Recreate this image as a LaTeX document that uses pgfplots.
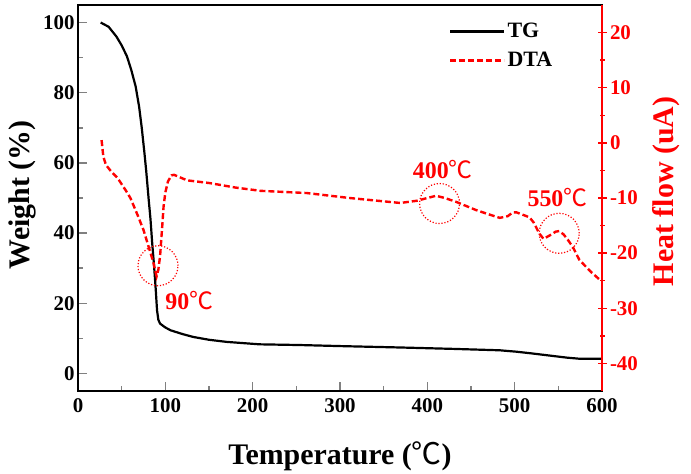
\documentclass[border=0pt]{standalone}
\usepackage{fontspec}
\setmainfont{Liberation Serif}
\newfontfamily\cjk{Noto Sans CJK SC}
\usepackage{pgfplots}
\pgfplotsset{compat=1.18}
\newcommand{\degC}{{\cjk\mdseries ℃}}

\begin{document}
\begin{tikzpicture}
\pgfplotsset{
  base/.style={
    scale only axis, width=524bp, height=386bp,
    xmin=0, xmax=600,
    /pgf/number format/assume math mode=true,
    xticklabel={\bfseries\pgfmathprintnumber{\tick}},
    yticklabel={\bfseries\pgfmathprintnumber{\tick}},
    tick label style={font=\fontsize{21}{21}\selectfont\bfseries},
    label style={font=\fontsize{30}{30}\selectfont\bfseries},
    major tick length=9bp, minor tick length=5bp,
    axis line style={line width=1.8bp},
    tick style={line width=1.5bp},
  },
}
\tikzset{
  annot/.style={red, font=\fontsize{24}{24}\selectfont\bfseries},
  ring/.style={red, line width=1.2bp, dash pattern=on 1.2bp off 1.8bp},
}
% Weight loss (TG), left axis
\begin{axis}[base,
  ymin=-5, ymax=105,
  xtick={0,100,...,600}, ytick={0,20,...,100},
  minor x tick num=1, minor y tick num=1,
  tick align=inside, xtick pos=bottom, ytick pos=left,
  xticklabel style={yshift=-4bp},
  xlabel={Temperature (\degC)}, ylabel={Weight (\%)},
  xlabel style={at={(axis description cs:0.5,-0.168)}, anchor=center},
  ylabel style={at={(axis description cs:-0.107,0.508)}, anchor=center},
  legend style={draw=none, fill=none, at={(rel axis cs:0.708,0.958)}, anchor=north west,
    font=\fontsize{22}{22}\selectfont\bfseries, row sep=9bp, inner sep=0pt},
  legend cell align=left,
  legend image code/.code={\draw[#1] (0bp,0bp) -- (54bp,0bp);},
]
\addplot[black, line width=2.2bp] coordinates {
(26,100) (35,98.8) (44,96) (50,93.5) (56,90.4) (61,86.5) (66,81.8) (70,76)
(73,70) (76,63) (78,58) (81,49.4) (83,44) (85,37) (87,31) (89,24) (90.5,18)
(92,15.3) (94,14.2) (100,13.1) (106,12.3) (120,11.2) (132,10.4) (150,9.6)
(170,9) (208,8.3) (254,8.1) (300,7.8) (369,7.4) (430,7) (483,6.6) (502,6.2)
(520,5.7) (540,5.1) (560,4.5) (574,4.2) (600,4.2)
};
\addlegendentry{TG}
\addlegendimage{red, line width=2.4bp, dash pattern=on 6bp off 3bp}
\addlegendentry{DTA}
\draw[ring] (axis cs:91.6,30.7) circle[radius=20bp];
\node[annot] at (axis cs:127.4,20.9) {90\degC};
\end{axis}

% Heat flow (DTA), right axis
\begin{axis}[base,
  ymin=-45, ymax=25,
  axis y line*=right, axis x line=none,
  ytick={-40,-30,...,20}, minor y tick num=1,
  tick align=center,
  y axis line style={red, line width=1.8bp},
  tick style={red, line width=1.5bp},
  yticklabel style={red},
  ylabel={Heat flow (uA)},
  ylabel style={red, at={(axis description cs:1.122,0.517)}, anchor=center, rotate=0},
  clip=false,
]
\addplot[red, line width=2.4bp, dash pattern=on 6bp off 3bp] coordinates {
(27,0.5) (29,-2.5) (32,-4) (38,-5.2) (45,-6.3) (50,-7.5) (55,-8.7) (60,-10)
(68,-13) (75,-15.8) (81,-18.9) (86,-21.5) (90,-24.2) (92,-23) (94,-20.5)
(96.5,-15) (98,-11.5) (100,-9) (103,-7) (107,-5.9) (110,-5.8) (125,-6.8)
(151,-7.3) (180,-8.1) (209,-8.7) (262,-9.1) (311,-10) (369,-10.9) (388,-10.5)
(400,-10) (410,-9.6) (420,-10) (433,-10.7) (456,-12.2) (471,-13) (483,-13.6)
(492,-13.3) (498,-12.6) (502,-12.6) (517,-13.5) (522,-14.5) (528,-16.4)
(533,-17.4) (540,-16.8) (547,-16.1) (551,-16) (556,-16.6) (561,-17.6)
(567,-19) (574,-21.2) (580,-22.2) (588,-23.5) (598,-24.9)
};
\draw[ring] (axis cs:414,-11) circle[radius=20bp];
\node[annot] at (axis cs:417.7,-4.9) {400\degC};
\draw[ring] (axis cs:551,-16.4) circle[radius=20bp];
\node[annot] at (axis cs:549,-10) {550\degC};
\end{axis}
\pgfresetboundingbox
\useasboundingbox (-78bp,-83bp) rectangle (613bp,391bp);
\end{tikzpicture}
\end{document}
